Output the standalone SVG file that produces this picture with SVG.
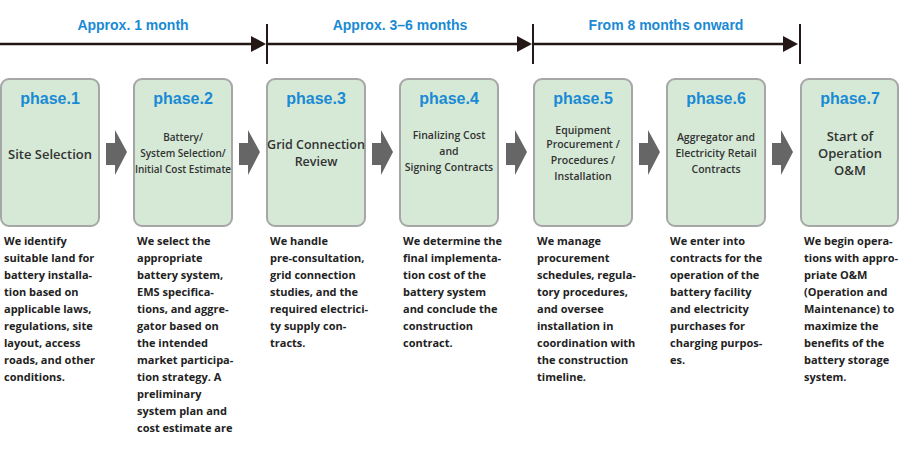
<svg xmlns="http://www.w3.org/2000/svg" width="900" height="460" viewBox="0 0 900 460">
<style>
.box{fill:#d5e9d6;stroke:#a6a6a6;stroke-width:2}
.ph{font:bold 16px "Liberation Sans",Arial,sans-serif;fill:#1a8ad4;text-anchor:middle}
.t{font-family:"Open Sans","DejaVu Sans",sans-serif;fill:#333;text-anchor:middle;font-weight:600}
.big{font-size:13px}
.sm{font-size:10.5px}
.b{font:bold 11px "Open Sans","DejaVu Sans",sans-serif;fill:#222}
.dur{font:bold 14px "Liberation Sans",Arial,sans-serif;fill:#1a8ad4;text-anchor:middle}
.tl{stroke:#231815;stroke-width:2.5;fill:none}
.tk{stroke:#231815;stroke-width:2}
.ah{fill:#231815}
.chev{fill:#666}
</style>
<g id="timeline">
<line class="tl" x1="0" y1="44" x2="254" y2="44"/><polygon class="ah" points="251,36 266,44 251,52"/>
<line class="tl" x1="267" y1="44" x2="520" y2="44"/><polygon class="ah" points="517,36 532,44 517,52"/>
<line class="tl" x1="533" y1="44" x2="786" y2="44"/><polygon class="ah" points="783,36 798,44 783,52"/>
<line class="tk" x1="267" y1="24" x2="267" y2="64"/>
<line class="tk" x1="533" y1="24" x2="533" y2="64"/>
<line class="tk" x1="800" y1="24" x2="800" y2="64"/>
<text class="dur" x="133" y="30">Approx. 1 month</text>
<text class="dur" x="400" y="30">Approx. 3–6 months</text>
<text class="dur" x="666" y="30">From 8 months onward</text>
</g>
<g id="connectors">
<polygon class="chev" points="106,143 115,143 115,130 127,152 115,175 115,165 106,165"/>
<polygon class="chev" points="239,143 248,143 248,130 260,152 248,175 248,165 239,165"/>
<polygon class="chev" points="372,143 381,143 381,130 393,152 381,175 381,165 372,165"/>
<polygon class="chev" points="506,143 515,143 515,130 527,152 515,175 515,165 506,165"/>
<polygon class="chev" points="639,143 648,143 648,130 660,152 648,175 648,165 639,165"/>
<polygon class="chev" points="772,143 781,143 781,130 793,152 781,175 781,165 772,165"/>
</g>
<g id="p1">
<rect class="box" x="1" y="79" width="98" height="147" rx="8"/>
<text class="ph" x="50" y="104">phase.1</text>
<text class="t big" x="50" y="159">Site Selection</text>
<text class="b" x="4"><tspan x="4" y="245">We identify</tspan><tspan x="4" y="262">suitable land for</tspan><tspan x="4" y="279">battery installa-</tspan><tspan x="4" y="296">tion based on</tspan><tspan x="4" y="313">applicable laws,</tspan><tspan x="4" y="330">regulations, site</tspan><tspan x="4" y="347">layout, access</tspan><tspan x="4" y="364">roads, and other</tspan><tspan x="4" y="381">conditions.</tspan></text>
</g>
<g id="p2">
<rect class="box" x="134" y="79" width="98" height="147" rx="8"/>
<text class="ph" x="183" y="104">phase.2</text>
<text class="t sm" style="font-size:10px"><tspan x="183" y="141">Battery/</tspan><tspan x="183" y="157">System Selection/</tspan><tspan x="183" y="173">Initial Cost Estimate</tspan></text>
<text class="b"><tspan x="137" y="245">We select the</tspan><tspan x="137" y="262">appropriate</tspan><tspan x="137" y="279">battery system,</tspan><tspan x="137" y="296">EMS specifica-</tspan><tspan x="137" y="313">tions, and aggre-</tspan><tspan x="137" y="330">gator based on</tspan><tspan x="137" y="347">the intended</tspan><tspan x="137" y="364">market participa-</tspan><tspan x="137" y="381">tion strategy. A</tspan><tspan x="137" y="398">preliminary</tspan><tspan x="137" y="415">system plan and</tspan><tspan x="137" y="432">cost estimate are</tspan></text>
</g>
<g id="p3">
<rect class="box" x="267" y="79" width="98" height="147" rx="8"/>
<text class="ph" x="316" y="104">phase.3</text>
<text class="t big" style="font-size:12.5px"><tspan x="316" y="149">Grid Connection</tspan><tspan x="316" y="166">Review</tspan></text>
<text class="b"><tspan x="270" y="245">We handle</tspan><tspan x="270" y="262">pre-consultation,</tspan><tspan x="270" y="279">grid connection</tspan><tspan x="270" y="296">studies, and the</tspan><tspan x="270" y="313">required electrici-</tspan><tspan x="270" y="330">ty supply con-</tspan><tspan x="270" y="347">tracts.</tspan></text>
</g>
<g id="p4">
<rect class="box" x="400" y="79" width="98" height="147" rx="8"/>
<text class="ph" x="449" y="104">phase.4</text>
<text class="t sm"><tspan x="449" y="139">Finalizing Cost</tspan><tspan x="449" y="155">and</tspan><tspan x="449" y="171">Signing Contracts</tspan></text>
<text class="b"><tspan x="403" y="245">We determine the</tspan><tspan x="403" y="262">final implementa-</tspan><tspan x="403" y="279">tion cost of the</tspan><tspan x="403" y="296">battery system</tspan><tspan x="403" y="313">and conclude the</tspan><tspan x="403" y="330">construction</tspan><tspan x="403" y="347">contract.</tspan></text>
</g>
<g id="p5">
<rect class="box" x="534" y="79" width="98" height="147" rx="8"/>
<text class="ph" x="583" y="104">phase.5</text>
<text class="t sm"><tspan x="583" y="134">Equipment</tspan><tspan x="583" y="148">Procurement /</tspan><tspan x="583" y="164">Procedures /</tspan><tspan x="583" y="180">Installation</tspan></text>
<text class="b"><tspan x="537" y="245">We manage</tspan><tspan x="537" y="262">procurement</tspan><tspan x="537" y="279">schedules, regula-</tspan><tspan x="537" y="296">tory procedures,</tspan><tspan x="537" y="313">and oversee</tspan><tspan x="537" y="330">installation in</tspan><tspan x="537" y="347">coordination with</tspan><tspan x="537" y="364">the construction</tspan><tspan x="537" y="381">timeline.</tspan></text>
</g>
<g id="p6">
<rect class="box" x="667" y="79" width="98" height="147" rx="8"/>
<text class="ph" x="716" y="104">phase.6</text>
<text class="t sm"><tspan x="716" y="141">Aggregator and</tspan><tspan x="716" y="157">Electricity Retail</tspan><tspan x="716" y="173">Contracts</tspan></text>
<text class="b"><tspan x="670" y="245">We enter into</tspan><tspan x="670" y="262">contracts for the</tspan><tspan x="670" y="279">operation of the</tspan><tspan x="670" y="296">battery facility</tspan><tspan x="670" y="313">and electricity</tspan><tspan x="670" y="330">purchases for</tspan><tspan x="670" y="347">charging purpos-</tspan><tspan x="670" y="364">es.</tspan></text>
</g>
<g id="p7">
<rect class="box" x="801" y="79" width="97" height="147" rx="8"/>
<text class="ph" x="850" y="104">phase.7</text>
<text class="t big"><tspan x="850" y="141">Start of</tspan><tspan x="850" y="158">Operation</tspan><tspan x="850" y="175">O&amp;M</tspan></text>
<text class="b"><tspan x="804" y="245">We begin opera-</tspan><tspan x="804" y="262">tions with appro-</tspan><tspan x="804" y="279">priate O&amp;M</tspan><tspan x="804" y="296">(Operation and</tspan><tspan x="804" y="313">Maintenance) to</tspan><tspan x="804" y="330">maximize the</tspan><tspan x="804" y="347">benefits of the</tspan><tspan x="804" y="364">battery storage</tspan><tspan x="804" y="381">system.</tspan></text>
</g>
</svg>
